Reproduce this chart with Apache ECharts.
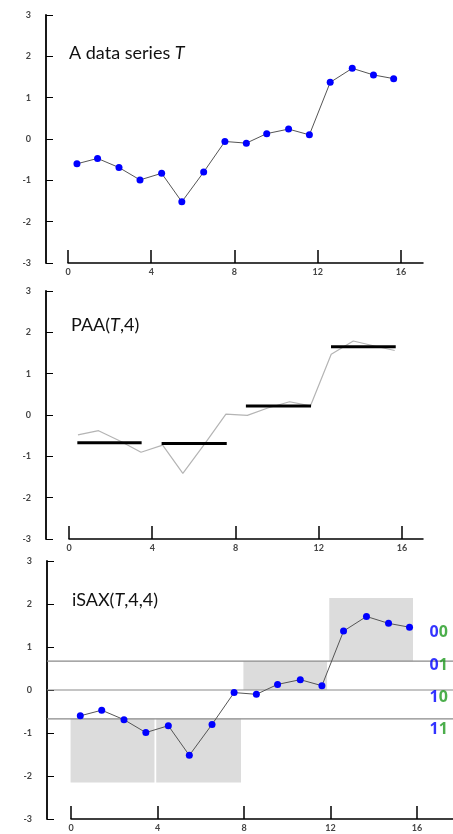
<!DOCTYPE html>
<html>
<head>
<meta charset="utf-8">
<script src="https://cdn.jsdelivr.net/npm/echarts@6/dist/echarts.min.js"></script>
<style>
  html, body { margin: 0; padding: 0; background: #fff; }
  #chartBox { width: 453px; height: 834px; }
</style>
</head>
<body>
<div id="chartBox"></div>
<script>
// time positions of the 16 samples
const xPos = [0.43, 1.42, 2.45, 3.46, 4.5, 5.47, 6.52, 7.54, 8.57, 9.55, 10.6, 11.6, 12.6, 13.66, 14.68, 15.65];
// data series T (top and bottom panels)
const seriesT = [-0.6, -0.47, -0.69, -0.99, -0.83, -1.52, -0.8, -0.06, -0.1, 0.13, 0.24, 0.1, 1.37, 1.71, 1.55, 1.46];
// T as drawn faintly behind the PAA panel
const seriesTPaa = [-0.48, -0.38, -0.63, -0.9, -0.73, -1.41, -0.7, 0.02, -0.01, 0.17, 0.32, 0.22, 1.47, 1.79, 1.67, 1.56];

// PAA(T,4) segments
const paaStart = [0.4, 4.45, 8.5, 12.59];
const paaEnd = [3.49, 7.58, 11.63, 15.7];
const paaValue = [-0.67, -0.69, 0.22, 1.65];

// iSAX(T,4,4) boxes
const boxStart = [-0.02, 3.94, 7.97, 11.94];
const boxEnd = [3.86, 7.86, 11.84, 15.81];
const boxLow = [-2.15, -2.15, 0, 0.67];
const boxHigh = [-0.67, -0.67, 0.67, 2.14];

// SAX breakpoints and region symbols
const breakpoints = [0.67, 0, -0.67];
const saxLabels = ["00", "01", "10", "11"];
const saxLabelY = [1.33, 0.57, -0.17, -0.92];
const saxLabelX = 17.0;

const xTicks = [0, 4, 8, 12, 16];

const chartDom = document.getElementById("chartBox");
const myChart = echarts.init(chartDom);

const grids = [
  { left: 68, right: 30, top: 15, height: 248 },
  { left: 69, right: 30, top: 291, height: 248 },
  { left: 71, right: 0, top: 561, height: 258 },
];
const xMax = [17.06, 17.01, 17.66];
const yOffset = [22, 23, 24];

const labelStyle = {
  fontSize: 9,
  color: "#444",
  fontWeight: "bold",
  fontFamily: "Lato",
};

function makeX(i) {
  return {
    type: "value",
    gridIndex: i,
    min: 0,
    max: xMax[i],
    axisLine: { show: true, onZero: false, lineStyle: { color: "#000", width: 1.5 } },
    axisTick: {
      show: true,
      inside: true,
      length: 13,
      customValues: xTicks,
      lineStyle: { color: "#000", width: 1.5 },
    },
    axisLabel: { ...labelStyle, customValues: xTicks, margin: 5 },
    splitLine: { show: false },
  };
}

function makeY(i) {
  return {
    type: "value",
    gridIndex: i,
    min: -3,
    max: 3,
    interval: 1,
    offset: yOffset[i],
    axisLine: { show: true, onZero: false, lineStyle: { color: "#000", width: 1.8 } },
    axisTick: {
      show: true,
      inside: true,
      length: 7,
      lineStyle: { color: "#000", width: 1 },
    },
    axisLabel: { ...labelStyle, margin: 15, padding: [0, 0, 6, 0] },
    splitLine: { show: false },
  };
}

const pointsT = xPos.map((x, i) => [x, seriesT[i]]);
const pointsTPaa = xPos.map((x, i) => [x, seriesTPaa[i]]);
const paaData = paaValue.map((v, i) => [paaStart[i], paaEnd[i], v]);
const boxData = boxLow.map((v, i) => [boxStart[i], boxEnd[i], v, boxHigh[i]]);
const labelData = saxLabels.map((s, i) => ({ value: [saxLabelX, saxLabelY[i]], name: s }));

const titleFont = { fontFamily: "Lato", fontSize: 18, color: "#111", fontWeight: "normal" };
const titleRich = {
  n: { ...titleFont },
  i: { ...titleFont, fontStyle: "italic" },
};

const option = {
  animation: false,
  backgroundColor: "#fff",
  title: [
    { text: "{n|A data series }{i|T}", left: 69, top: 44, padding: 0, textStyle: { rich: titleRich } },
    { text: "{n|PAA(}{i|T}{n|,4)}", left: 71, top: 316, padding: 0, textStyle: { rich: titleRich } },
    { text: "{n|iSAX(}{i|T}{n|,4,4)}", left: 72, top: 591, padding: 0, textStyle: { rich: titleRich } },
  ],
  grid: grids,
  xAxis: [makeX(0), makeX(1), makeX(2)],
  yAxis: [makeY(0), makeY(1), makeY(2)],
  series: [
    {
      name: "T",
      type: "line",
      xAxisIndex: 0,
      yAxisIndex: 0,
      data: pointsT,
      symbol: "circle",
      symbolSize: 7,
      itemStyle: { color: "#0000ff" },
      lineStyle: { color: "#555", width: 1 },
      z: 3,
    },
    {
      name: "T faint",
      type: "line",
      xAxisIndex: 1,
      yAxisIndex: 1,
      data: pointsTPaa,
      symbol: "none",
      lineStyle: { color: "#b4b4b4", width: 1.2 },
      z: 2,
    },
    {
      name: "PAA",
      type: "custom",
      xAxisIndex: 1,
      yAxisIndex: 1,
      data: paaData,
      encode: { x: [0, 1], y: 2 },
      renderItem: function (params, api) {
        const p1 = api.coord([api.value(0), api.value(2)]);
        const p2 = api.coord([api.value(1), api.value(2)]);
        return {
          type: "line",
          shape: { x1: p1[0], y1: p1[1], x2: p2[0], y2: p2[1] },
          style: { stroke: "#000", lineWidth: 3 },
        };
      },
      z: 4,
    },
    {
      name: "boxes",
      type: "custom",
      xAxisIndex: 2,
      yAxisIndex: 2,
      data: boxData,
      encode: { x: [0, 1], y: [2, 3] },
      renderItem: function (params, api) {
        const p1 = api.coord([api.value(0), api.value(3)]);
        const p2 = api.coord([api.value(1), api.value(2)]);
        return {
          type: "rect",
          shape: { x: p1[0], y: p1[1], width: p2[0] - p1[0], height: p2[1] - p1[1] },
          style: { fill: "#dcdcdc" },
        };
      },
      z: 1,
    },
    {
      name: "breakpoints",
      type: "custom",
      xAxisIndex: 2,
      yAxisIndex: 2,
      data: breakpoints.map((v) => [0, v]),
      encode: { x: 0, y: 1 },
      clip: false,
      renderItem: function (params, api) {
        const cs = params.coordSys;
        const p = api.coord([0, api.value(1)]);
        return {
          type: "line",
          shape: { x1: cs.x - yOffset[2], y1: p[1], x2: cs.x + cs.width, y2: p[1] },
          style: { stroke: "#8a8a8a", lineWidth: 1.2 },
        };
      },
      z: 2,
    },
    {
      name: "T iSAX",
      type: "line",
      xAxisIndex: 2,
      yAxisIndex: 2,
      data: pointsT,
      symbol: "circle",
      symbolSize: 7,
      itemStyle: { color: "#0000ff" },
      lineStyle: { color: "#555", width: 1 },
      z: 3,
    },
    {
      name: "symbols",
      type: "scatter",
      xAxisIndex: 2,
      yAxisIndex: 2,
      data: labelData,
      symbolSize: 0,
      label: {
        show: true,
        position: "inside",
        fontSize: 16,
        fontWeight: "bold",
        formatter: function (p) {
          return "{b|" + p.name.charAt(0) + "}{g|" + p.name.charAt(1) + "}";
        },
        rich: {
          b: { color: "#0000ff", fontSize: 16, fontWeight: "bold", fontFamily: "Open Sans" },
          g: { color: "#1f9a1f", fontSize: 16, fontWeight: "bold", fontFamily: "Open Sans" },
        },
      },
      z: 5,
    },
  ],
};

option && myChart.setOption(option);
</script>
</body>
</html>
